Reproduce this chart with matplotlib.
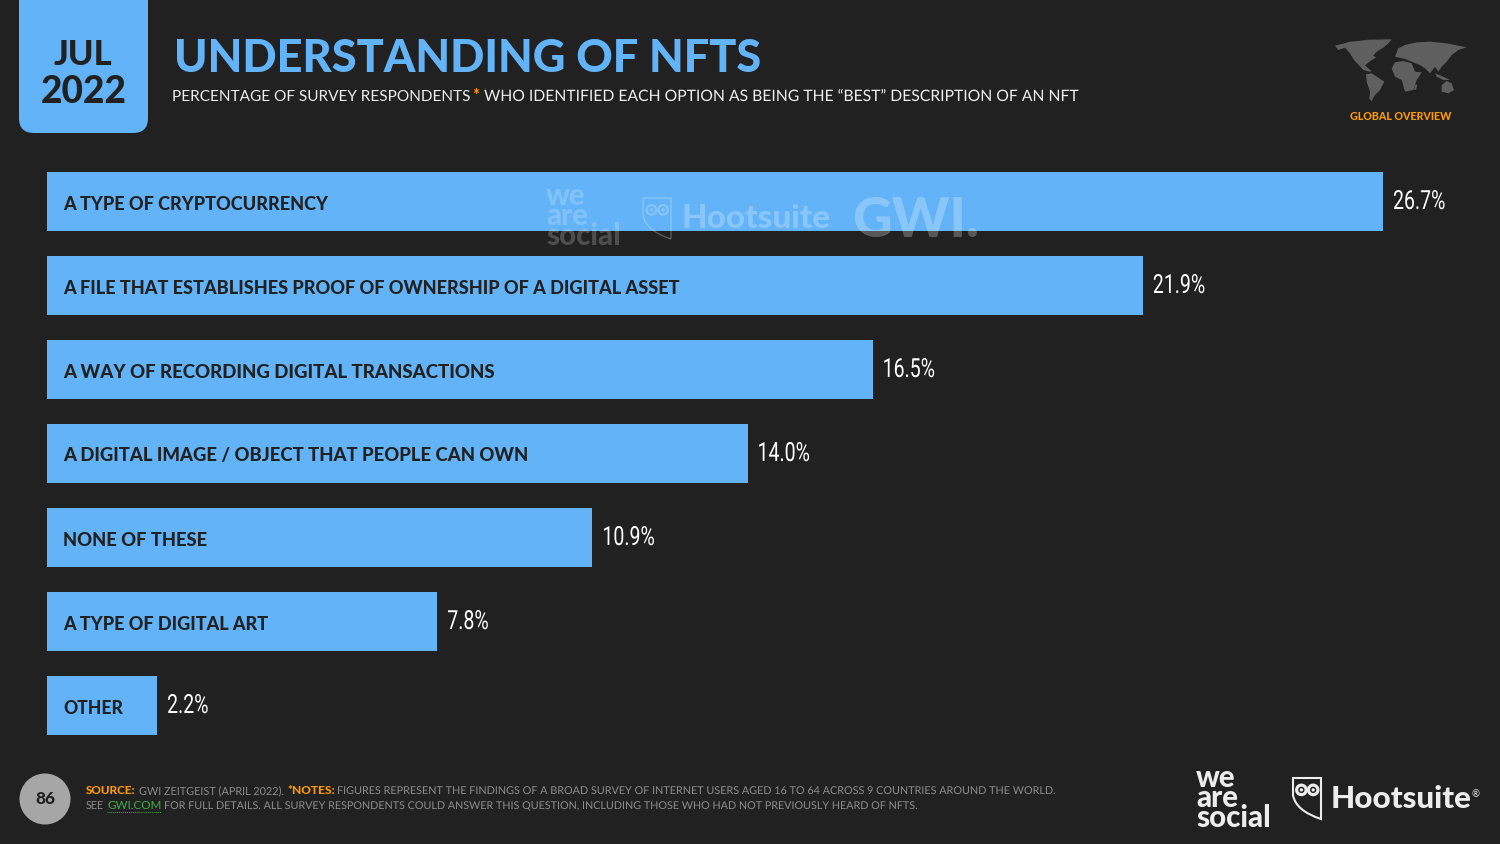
import matplotlib
matplotlib.use("Agg")
import matplotlib.pyplot as plt
from matplotlib.patches import FancyBboxPatch, Circle, Polygon, PathPatch
from matplotlib.patheffects import AbstractPathEffect
from matplotlib.path import Path
from matplotlib.transforms import Affine2D

labels = ["A TYPE OF CRYPTOCURRENCY",
          "A FILE THAT ESTABLISHES PROOF OF OWNERSHIP OF A DIGITAL ASSET",
          "A WAY OF RECORDING DIGITAL TRANSACTIONS",
          "A DIGITAL IMAGE / OBJECT THAT PEOPLE CAN OWN",
          "NONE OF THESE",
          "A TYPE OF DIGITAL ART",
          "OTHER"]
values = [26.7, 21.9, 16.5, 14.0, 10.9, 7.8, 2.2]
label_ends = [328, 679, 493, 528, 207, 268, 123]

BG = "#212121"
BLUE = "#62B3F7"
ORANGE = "#FF9A00"
GREY = "#8c8c8c"
LIGHT = "#ededed"

plt.rcParams["font.family"] = ["Lato", "DejaVu Sans"]

fig = plt.figure(figsize=(15, 8.44), dpi=100, facecolor=BG)

# bars, on their own axes
ax = fig.add_axes([47 / 1500, 1 - 747 / 844, 1336 / 1500, 588 / 844])
ax.set_facecolor("none")
ax.barh(range(len(values)), values, height=59 / 84, color=BLUE, zorder=2)
ax.set_xlim(0, 26.7)
ax.set_ylim(6.5, -0.5)
ax.axis("off")

# everything else in picture pixels
bg = fig.add_axes([0, 0, 1, 1])
bg.set_xlim(0, 1500)
bg.set_ylim(844, 0)
bg.axis("off")
bg.patch.set_alpha(0)
bg.set_zorder(3)


class Squeeze(AbstractPathEffect):
    # narrows the glyphs, no condensed font is installed
    def __init__(self, sx):
        super().__init__()
        self.sx = sx

    def draw_path(self, renderer, gc, tpath, affine, rgbFace=None):
        renderer.draw_path(gc, tpath, Affine2D().scale(self.sx, 1) + affine, rgbFace)


def put(x0, x1, y, s, color, weight="normal", alpha=1, linespacing=1.0, sx=None):
    # size the text so that it spans x0..x1 like in the slide
    t = bg.text(x0, y, s, color=color, fontweight=weight, va="center", ha="left",
                fontsize=10, alpha=alpha, linespacing=linespacing)
    for _ in range(3):
        w = t.get_window_extent(fig.canvas.get_renderer()).width
        t.set_fontsize(t.get_fontsize() * (x1 - x0) / w)
    if sx:
        t.set_path_effects([Squeeze(sx)])
    return t


# date badge
bg.add_patch(FancyBboxPatch((19, -40), 129, 173, boxstyle="round,pad=0,rounding_size=15",
                            fc=BLUE, ec="none"))
put(54, 113, 55, "JUL", BG, "black")
put(41, 127, 92, "2022", BG, "black")

put(174, 761, 59, "UNDERSTANDING OF NFTS", BLUE, "black")
put(172, 471, 97, "PERCENTAGE OF SURVEY RESPONDENTS", LIGHT)
put(472, 479, 96, "*", ORANGE, "bold")
put(484, 1076, 97, "WHO IDENTIFIED EACH OPTION AS BEING THE \u201cBEST\u201d DESCRIPTION OF AN NFT", LIGHT, sx=1.0)

# bar labels and values
for i, (lab, v, end) in enumerate(zip(labels, values, label_ends)):
    yc = 203 + 84 * i
    put(63, end, yc + 1, lab, BG, "black")
    xend = 47 + v * 1336 / 26.7
    t = bg.text(xend + 10, yc - 1, f"{v:.1f}%", color="white", fontsize=19,
                va="center", family="Roboto")
    t.set_path_effects([Squeeze(0.74)])

land = [
    [(15, 32), (40, 26), (60, 20), (85, 18), (115, 14), (185, 13), (175, 25), (160, 38), (140, 50), (130, 62),
     (138, 68), (125, 75), (112, 85), (105, 92), (125, 108), (118, 110), (100, 105), (88, 92), (72, 75),
     (60, 55), (45, 38), (25, 45)],
    [(108, 118), (125, 115), (145, 128), (163, 140), (150, 165), (135, 180), (125, 198), (118, 192), (120, 170), (110, 140)],
    [(185, 100), (195, 82), (220, 78), (245, 85), (255, 110), (275, 112), (260, 135), (250, 165), (225, 170), (215, 135), (195, 125)],
    [(195, 65), (205, 40), (225, 30), (260, 22), (300, 20), (350, 25), (410, 37), (385, 45), (365, 60), (350, 80),
     (335, 95), (325, 110), (315, 95), (300, 115), (285, 100), (270, 90), (250, 82), (225, 72)],
    [(335, 150), (350, 138), (365, 145), (372, 165), (355, 175), (335, 170)],
    [(315, 115), (340, 125), (360, 135), (340, 135), (320, 125)],
    [(255, 150), (262, 148), (258, 165), (252, 163)],
]
for pts in land:
    bg.add_patch(Polygon([(1330 + px / 3, 35 + py / 3) for px, py in pts], closed=True, fc="#5f5f5f", ec="none"))
put(1350, 1452, 116, "GLOBAL OVERVIEW", ORANGE, "black")


def owl(x, y, w, h, color, alpha=1.0, lw=1.5):
    shield = Path([(x, y), (x + w, y), (x + w, y + h), (x + w * 0.1, y + h * 0.8), (x, y + h * 0.42), (x, y)],
                  [Path.MOVETO, Path.LINETO, Path.LINETO, Path.CURVE3, Path.CURVE3, Path.CLOSEPOLY])
    bg.add_patch(PathPatch(shield, fc="none", ec=color, lw=lw, alpha=alpha))
    for cx in (0.3, 0.72):
        bg.add_patch(Circle((x + w * cx, y + h * 0.29), w * 0.17, fc="none", ec=color, lw=lw * 1.5, alpha=alpha))
        bg.add_patch(Circle((x + w * cx, y + h * 0.29), w * 0.06, fc=color, ec="none", alpha=alpha))


# watermark over the first bar
wm = "white"
put(546, 621, 216, "we\nare\nsocial", wm, "black", alpha=0.2, linespacing=0.64)
owl(643, 198, 28, 41, wm, alpha=0.25, lw=1)
put(681, 830, 219, "Hootsuite", wm, "black", alpha=0.25)
put(852, 979, 221, "GWI.", wm, "black", alpha=0.25)

# footer
bg.add_patch(Circle((45, 799), 25.5, fc="#a6a6a6", ec="none"))
put(35, 55, 799.5, "86", BG, "black")
put(86, 136, 790.5, "SOURCE:", ORANGE, "black")
put(139, 284, 790.5, "GWI ZEITGEIST (APRIL 2022).", GREY)
put(287, 335, 790.5, "*NOTES:", ORANGE, "black")
put(337, 1056, 790.5, "FIGURES REPRESENT THE FINDINGS OF A BROAD SURVEY OF INTERNET USERS AGED 16 TO 64 ACROSS 9 COUNTRIES AROUND THE WORLD.", GREY, sx=1.0)
put(86, 104, 805.5, "SEE", GREY)
put(107, 161, 805.5, "GWI.COM", "#3fae49")
bg.plot([107, 161], [812, 812], color="#3fae49", lw=0.7, ls=(0, (1, 1)))
put(164, 917, 805.5, "FOR FULL DETAILS. ALL SURVEY RESPONDENTS COULD ANSWER THIS QUESTION, INCLUDING THOSE WHO HAD NOT PREVIOUSLY HEARD OF NFTS.", GREY, sx=1.0)

# logos
put(1196, 1271, 798, "we\nare\nsocial", LIGHT, "black", linespacing=0.64)
owl(1293, 778, 28, 41, LIGHT)
put(1331, 1472, 799, "Hootsuite", LIGHT, "black")
put(1472, 1480, 795, "\u00ae", LIGHT)

fig.savefig("out.png", dpi=100, facecolor=BG)
